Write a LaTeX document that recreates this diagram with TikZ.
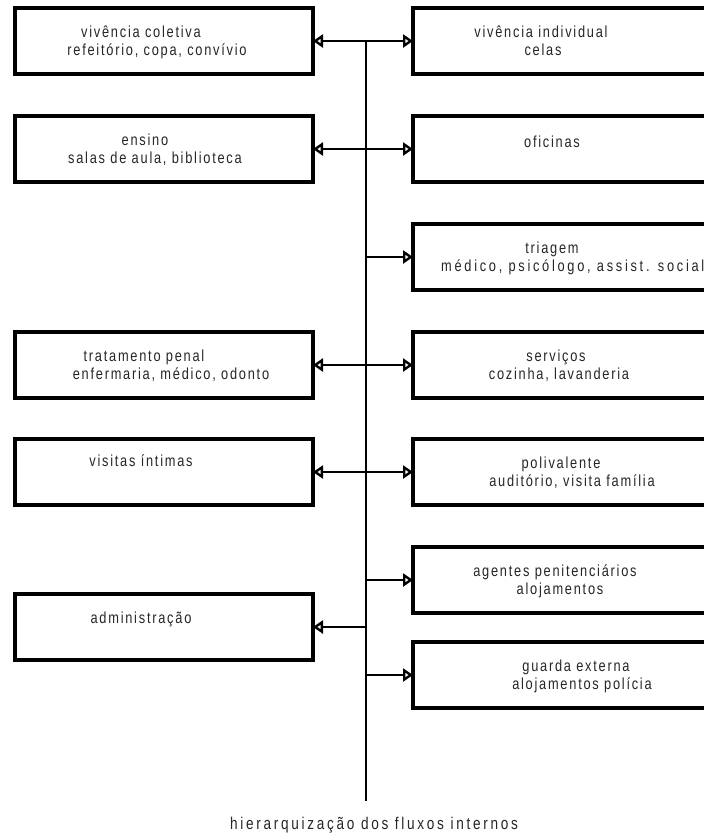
\documentclass[tikz,border=0pt]{standalone}
\usepackage{fontspec}
\setmainfont{Liberation Sans}[FakeStretch=0.8, LetterSpace=11]
\usetikzlibrary{arrows.meta}
\tikzset{
  box/.style={draw=black, line width=3.2pt, minimum height=66pt, inner sep=0pt, outer sep=0pt},
  lbox/.style={box, minimum width=298pt},
  rbox/.style={box, minimum width=310pt},
  conn/.style={draw=black, line width=2.5pt, -{Triangle[open, length=10pt, width=13pt, line width=2.4pt]}},
  spine/.style={draw=black, line width=2.5pt},
  txt/.style={anchor=base, inner sep=0pt, text=black!85, font=\fontsize{16}{19}\selectfont},
}
\begin{document}
\begin{tikzpicture}[x=1pt, y=-1pt]
\useasboundingbox[fill=white] (0,0) rectangle (704,839);
% boxes
\node[lbox] (L1) at (164,41) {};
\node[rbox] (R1) at (568,41) {};
\node[lbox] (L2) at (164,149) {};
\node[rbox] (R2) at (568,149) {};
\node[rbox] (R3) at (568,257) {};
\node[lbox] (L4) at (164,365) {};
\node[rbox] (R4) at (568,365) {};
\node[lbox] (L5) at (164,472) {};
\node[rbox] (R5) at (568,472) {};
\node[rbox] (R6) at (568,580) {};
\node[lbox] (L6) at (164,627) {};
\node[rbox] (R7) at (568,675) {};
% texts
\node[txt] (t1a) at (141,37) {vivência coletiva};
\node[txt] (t1b) at (157,55) {refeitório, copa, convívio};
\node[txt] (t2a) at (541,37) {vivência individual};
\node[txt] (t2b) at (543,55) {celas};
\node[txt] (t3a) at (145,145) {ensino};
\node[txt] (t3b) at (155,163) {salas de aula, biblioteca};
\node[txt] (t4a) at (552,147) {oficinas};
\node[txt] (t5a) at (552,253) {triagem};
\node[txt, anchor=base west] (t5b) at (441,271) {\addfontfeature{LetterSpace=17}médico, psicólogo, assist. social};
\node[txt] (t6a) at (144,361) {tratamento penal};
\node[txt] (t6b) at (171,379) {enfermaria, médico, odonto};
\node[txt] (t7a) at (556,361) {serviços};
\node[txt] (t7b) at (559,379) {cozinha, lavanderia};
\node[txt] (t8a) at (141,466) {visitas íntimas};
\node[txt] (t9a) at (561,468) {polivalente};
\node[txt] (t9b) at (572,486) {auditório, visita família};
\node[txt] (t10a) at (555,576) {agentes penitenciários};
\node[txt] (t10b) at (560,594) {alojamentos};
\node[txt] (t11a) at (141,623) {administração};
\node[txt] (t12a) at (576,671) {guarda externa};
\node[txt] (t12b) at (582,689) {alojamentos polícia};
\node[txt, font=\fontsize{17}{20}\selectfont] (lab) at (374,829) {\addfontfeature{LetterSpace=16}hierarquização dos fluxos internos};
% spine
\coordinate (sTop) at (366,41);
\coordinate (sBot) at (366,801);
\coordinate (s2) at (366,149);
\coordinate (s3) at (366,257);
\coordinate (s4) at (366,365);
\coordinate (s5) at (366,472);
\coordinate (s6) at (366,580);
\coordinate (s7) at (366,627);
\coordinate (s8) at (366,675);
\draw[spine] (sTop) -- (sBot);
% connectors
\draw[conn] (sTop) -- (L1.east);
\draw[conn] (sTop) -- (R1.west);
\draw[conn] (s2) -- (L2.east);
\draw[conn] (s2) -- (R2.west);
\draw[conn] (s3) -- (R3.west);
\draw[conn] (s4) -- (L4.east);
\draw[conn] (s4) -- (R4.west);
\draw[conn] (s5) -- (L5.east);
\draw[conn] (s5) -- (R5.west);
\draw[conn] (s6) -- (R6.west);
\draw[conn] (s7) -- (L6.east);
\draw[conn] (s8) -- (R7.west);
\end{tikzpicture}
\end{document}
